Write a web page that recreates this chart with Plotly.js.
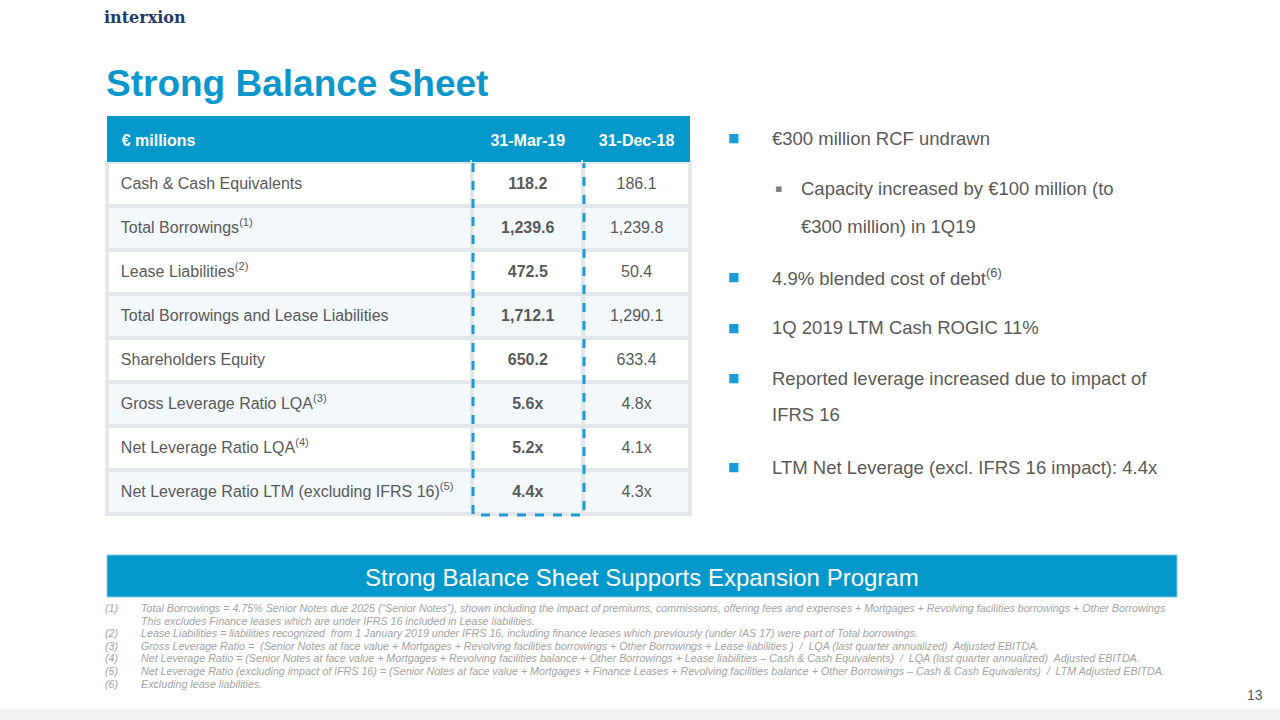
<!DOCTYPE html>
<html>
<head>
<meta charset="utf-8">
<script src="https://cdn.plot.ly/plotly-3.0.1.min.js"></script>
<style>html,body{margin:0;padding:0;background:#fff;}#chart{width:1280px;height:720px;}</style>
</head>
<body>
<div id="chart"></div>
<script>
// ---- data ----
var headerLabels = ["€ millions", "31-Mar-19", "31-Dec-18"];
var rowLabels = [
  "Cash & Cash Equivalents",
  "Total Borrowings<sup>(1)</sup>",
  "Lease Liabilities<sup>(2)</sup>",
  "Total Borrowings and Lease Liabilities",
  "Shareholders Equity",
  "Gross Leverage Ratio LQA<sup>(3)</sup>",
  "Net Leverage Ratio LQA<sup>(4)</sup>",
  "Net Leverage Ratio LTM (excluding IFRS 16)<sup>(5)</sup>"
];
var mar19 = ["118.2", "1,239.6", "472.5", "1,712.1", "650.2", "5.6x", "5.2x", "4.4x"];
var dec18 = ["186.1", "1,239.8", "50.4", "1,290.1", "633.4", "4.8x", "4.1x", "4.3x"];

var bullets = [
  {lvl: 1, text: "€300 million RCF undrawn"},
  {lvl: 2, text: "Capacity increased by €100 million (to"},
  {lvl: 0, text: "€300 million) in 1Q19"},
  {lvl: 1, text: "4.9% blended cost of debt<sup>(6)</sup>"},
  {lvl: 1, text: "1Q 2019 LTM Cash ROGIC 11%"},
  {lvl: 1, text: "Reported leverage increased due to impact of"},
  {lvl: 0, text: "IFRS 16"},
  {lvl: 1, text: "LTM Net Leverage (excl. IFRS 16 impact): 4.4x"}
];
var bulletY = [138, 189, 226, 277, 328, 378, 415, 467];

var footNums = ["(1)", "", "(2)", "(3)", "(4)", "(5)", "(6)"];
var footTexts = [
  "Total Borrowings = 4.75% Senior Notes due 2025 (“Senior Notes”), shown including the impact of premiums, commissions, offering fees and expenses + Mortgages + Revolving facilities borrowings + Other Borrowings",
  "This excludes Finance leases which are under IFRS 16 included in Lease liabilities.",
  "Lease Liabilities = liabilities recognized  from 1 January 2019 under IFRS 16, including finance leases which previously (under IAS 17) were part of Total borrowings.",
  "Gross Leverage Ratio =  (Senior Notes at face value + Mortgages + Revolving facilities borrowings + Other Borrowings + Lease liabilities )  /  LQA (last quarter annualized)  Adjusted EBITDA.",
  "Net Leverage Ratio = (Senior Notes at face value + Mortgages + Revolving facilities balance + Other Borrowings + Lease liabilities – Cash & Cash Equivalents)  /  LQA (last quarter annualized)  Adjusted EBITDA.",
  "Net Leverage Ratio (excluding impact of IFRS 16) = (Senior Notes at face value + Mortgages + Finance Leases + Revolving facilities balance + Other Borrowings – Cash & Cash Equivalents)  /  LTM Adjusted EBITDA.",
  "Excluding lease liabilities."
];

// ---- helpers ----
function px(x) { return x / 1280; }
function py(y) { return 1 - y / 720; }

var BLUE = "#0599cb";
var GRAY = "#595959";
var FONT = "Liberation Sans, Arial, sans-serif";

// Table text is top-aligned: a tall non-breaking space lowers the text so it sits centred in its row.
// The trailing <br> marks the text as pre-broken so the table does not re-wrap it word by word.
function sp(size) { return "<span style='font-size:" + size + "px'>\u00a0</span>"; }
function padL(s, size) { return sp(size) + s + "<br>"; }
function padC(s, size) { return sp(size) + s + sp(size) + "<br>"; }

var rowFill = rowLabels.map(function (_, i) { return i % 2 === 0 ? "#ffffff" : "#f2f8fb"; });

var table = {
  type: "table",
  domain: {x: [px(107), px(691)], y: [py(530), py(116)]},
  columnwidth: [366, 111, 107],
  header: {
    values: [
      padL("<b>" + headerLabels[0] + "</b>", 24),
      padC("<b>" + headerLabels[1] + "</b>", 24),
      padC("<b>" + headerLabels[2] + "</b>", 24)
    ],
    align: ["left", "center", "center"],
    height: 46,
    fill: {color: BLUE},
    line: {color: BLUE, width: 0},
    font: {family: FONT, size: 16, color: "#ffffff"}
  },
  cells: {
    values: [
      rowLabels.map(function (v) { return padL(v, 21); }),
      mar19.map(function (v) { return padC("<b>" + v + "</b>", 21); }),
      dec18.map(function (v) { return padC(v, 21); })
    ],
    align: ["left", "center", "center"],
    height: 44,
    fill: {color: [rowFill, rowFill, rowFill]},
    line: {color: "#e1e7eb", width: 4},
    font: {family: FONT, size: 16, color: GRAY}
  }
};

var ann = [];
// logo
ann.push({text: "<b>interxion</b>", x: px(102), y: py(17), xref: "paper", yref: "paper", xanchor: "left", yanchor: "middle", showarrow: false,
  font: {family: "DejaVu Serif, Liberation Serif, serif", size: 16, color: "#1e3a6b"}});
// title
ann.push({text: "<b>Strong Balance Sheet</b>", x: px(104), y: py(83), xref: "paper", yref: "paper", xanchor: "left", yanchor: "middle", showarrow: false,
  font: {family: FONT, size: 37, color: "#0b97cb"}});
// bullets
bullets.forEach(function (b, i) {
  var y = py(bulletY[i]);
  if (b.lvl === 1) {
    ann.push({text: "■", x: px(733), y: y, xref: "paper", yref: "paper", xanchor: "center", yanchor: "middle", showarrow: false,
      font: {family: "DejaVu Sans", size: 12, color: "#1a9ad6"}});
    ann.push({text: b.text, x: px(770), y: y, xref: "paper", yref: "paper", xanchor: "left", yanchor: "middle", showarrow: false,
      font: {family: FONT, size: 18.5, color: GRAY}});
  } else if (b.lvl === 2) {
    ann.push({text: "▪", x: px(778), y: y, xref: "paper", yref: "paper", xanchor: "center", yanchor: "middle", showarrow: false,
      font: {family: "DejaVu Sans", size: 11, color: "#7f7f7f"}});
    ann.push({text: b.text, x: px(799), y: y, xref: "paper", yref: "paper", xanchor: "left", yanchor: "middle", showarrow: false,
      font: {family: FONT, size: 18.5, color: GRAY}});
  } else {
    var indent = (i === 2) ? 799 : 770;
    ann.push({text: b.text, x: px(indent), y: y, xref: "paper", yref: "paper", xanchor: "left", yanchor: "middle", showarrow: false,
      font: {family: FONT, size: 18.5, color: GRAY}});
  }
});
// banner text
ann.push({text: "Strong Balance Sheet Supports Expansion Program", x: px(642), y: py(577), xref: "paper", yref: "paper", xanchor: "center", yanchor: "middle", showarrow: false,
  font: {family: FONT, size: 24, color: "#ffffff"}});
// footnotes
var footY = [608, 620.5, 633, 645.5, 658, 671, 684];
footTexts.forEach(function (t, i) {
  if (footNums[i]) {
    ann.push({text: "<i>" + footNums[i] + "</i>", x: px(103), y: py(footY[i]), xref: "paper", yref: "paper", xanchor: "left", yanchor: "middle", showarrow: false,
      font: {family: FONT, size: 10.7, color: "#a3a3a3"}});
  }
  ann.push({text: "<i>" + t + "</i>", x: px(139), y: py(footY[i]), xref: "paper", yref: "paper", xanchor: "left", yanchor: "middle", showarrow: false,
    font: {family: FONT, size: 10.7, color: "#a3a3a3"}});
});
// page number
ann.push({text: "13", x: px(1265), y: py(695), xref: "paper", yref: "paper", xanchor: "right", yanchor: "middle", showarrow: false,
  font: {family: FONT, size: 14, color: "#595959"}});

var shapes = [
  // banner
  {type: "rect", xref: "paper", yref: "paper", x0: px(107), x1: px(1177), y0: py(597), y1: py(555), fillcolor: BLUE, line: {color: "#7fcbe6", width: 1}, layer: "below"},
  // bottom strip
  {type: "rect", xref: "paper", yref: "paper", x0: 0, x1: 1, y0: 0, y1: py(709), fillcolor: "#f2f2f2", line: {width: 0}, layer: "below"},
  // dashed highlight around 31-Mar-19 column
  {type: "path", xref: "paper", yref: "paper", layer: "above",
    path: "M" + px(473) + "," + py(163) + " L" + px(473) + "," + py(515) + " L" + px(584) + "," + py(515) + " L" + px(584) + "," + py(163),
    line: {color: "#1a9ad6", width: 3, dash: "dash"}}
];

var layout = {
  width: 1280, height: 720,
  margin: {l: 0, r: 0, t: 0, b: 0},
  paper_bgcolor: "#ffffff",
  showlegend: false,
  annotations: ann,
  shapes: shapes
};

Plotly.newPlot("chart", [table], layout, {displayModeBar: false, staticPlot: true});
</script>
</body>
</html>
